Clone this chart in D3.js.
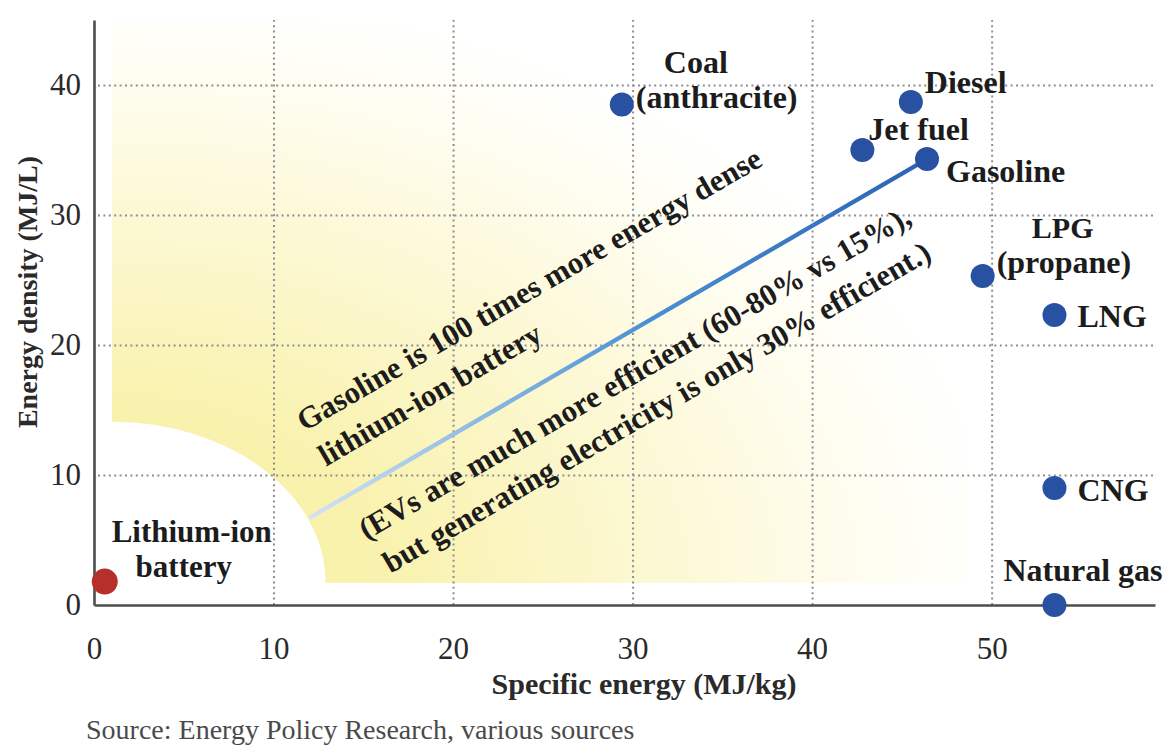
<!DOCTYPE html>
<html><head><meta charset="utf-8">
<script src="https://cdn.jsdelivr.net/npm/d3@7"></script>
<style>
html,body{margin:0;padding:0;background:#fff;}
svg{display:block;font-family:"Liberation Serif","Times New Roman",serif;}
</style>
</head><body>
<svg id="c" width="1167" height="746"></svg>
<script>
// ---- data ----
const fuels          = ["Lithium-ion battery","Coal (anthracite)","Diesel","Jet fuel","Gasoline","LPG (propane)","LNG","CNG","Natural gas"];
const specificEnergy = [0.6, 29.4, 45.5, 42.8, 46.4, 49.5, 53.5, 53.5, 53.5];   // MJ/kg
const energyDensity  = [1.8, 38.5, 38.7, 35.0, 34.3, 25.3, 22.3, 9.0, 0.0];     // MJ/L
const xTicks = [0, 10, 20, 30, 40, 50];
const yTicks = [0, 10, 20, 30, 40];
const comparisonFrom = [12.0, 6.7];          // start of the battery -> gasoline line
const glowCentre = [1.0, 1.7];               // corner of the shaded zone
const glowRadius = [11.9, 12.4];             // white cut-out around the battery
const glowRight = 48.8;
const noteAbove = ["Gasoline is 100 times more energy dense", "lithium-ion battery"];
const noteBelow = ["(EVs are much more efficient (60-80% vs 15%),", "but generating electricity is only 30% efficient.)"];
const xTitle = "Specific energy (MJ/kg)";
const yTitle = "Energy density (MJ/L)";
const source = "Source: Energy Policy Research, various sources";

// ---- layout ----
const svg = d3.select("#c");
const x = d3.scaleLinear().domain([0, 59.1]).range([94, 1155]);
const y = d3.scaleLinear().domain([0, 45]).range([605, 20]);
const points = fuels.map((n, i) => ({name: n, x: specificEnergy[i], y: energyDensity[i]}));
const ink = "#1c1c1c";

const defs = svg.append("defs");
const gx0 = x(glowCentre[0]), gy0 = y(glowCentre[1]);
const rg = defs.append("radialGradient").attr("id", "glow")
  .attr("gradientUnits", "userSpaceOnUse")
  .attr("cx", 0).attr("cy", 0).attr("r", 1)
  .attr("gradientTransform", `translate(${gx0},${gy0}) scale(900,600)`);
[[0, "#f8f0a2"], [0.3, "#f9f2ae"], [0.5, "#fbf6c6"], [0.7, "#fdfadf"], [0.88, "#fffef5"], [1, "#ffffff"]]
  .forEach(([o, c]) => rg.append("stop").attr("offset", o).attr("stop-color", c));

defs.append("clipPath").attr("id", "glowClip").append("rect")
  .attr("x", gx0).attr("y", y(45)).attr("width", x(glowRight) - gx0).attr("height", gy0 - y(45));

const glow = svg.append("g").attr("clip-path", "url(#glowClip)");
glow.append("rect").attr("x", gx0).attr("y", y(45))
  .attr("width", x(glowRight) - gx0).attr("height", gy0 - y(45)).attr("fill", "url(#glow)");
glow.append("ellipse").attr("cx", gx0).attr("cy", gy0)
  .attr("rx", x(glowCentre[0] + glowRadius[0]) - gx0)
  .attr("ry", gy0 - y(glowCentre[1] + glowRadius[1]))
  .attr("fill", "#fff");

// grid
const gridStyle = s => s.attr("stroke", "#8e8e96").attr("stroke-width", 2).attr("stroke-dasharray", "2,3.4");
const gv = svg.append("g").attr("transform", `translate(0,${y(0)})`)
  .call(d3.axisBottom(x).tickValues(xTicks.filter(d => d > 0)).tickSize(-(y(0) - y(45))).tickFormat(""));
gv.select(".domain").remove();
gv.selectAll("line").call(gridStyle);
const gh = svg.append("g").attr("transform", `translate(${x(0)},0)`)
  .call(d3.axisLeft(y).tickValues(yTicks.filter(d => d > 0)).tickSize(-(x.range()[1] - x(0))).tickFormat(""));
gh.select(".domain").remove();
gh.selectAll("line").call(gridStyle).attr("x1", 4);

// axes
const ax = svg.append("g").attr("transform", `translate(0,${y(0)})`)
  .call(d3.axisBottom(x).tickValues(xTicks).tickSize(0).tickPadding(32));
const ay = svg.append("g").attr("transform", `translate(${x(0)},0)`)
  .call(d3.axisLeft(y).tickValues(yTicks).tickSize(0).tickPadding(13));
[ax, ay].forEach(a => {
  a.select(".domain").attr("stroke", "#4d4d4d").attr("stroke-width", 2.6);
  a.selectAll("text").attr("font-family", "Liberation Serif").attr("font-size", 31).attr("fill", "#2a2a2a");
});
ay.selectAll("text").attr("dy", "0.3em");

// comparison line
const a0 = [x(comparisonFrom[0]), y(comparisonFrom[1])];
const gas = points[4];
const a1 = [x(gas.x), y(gas.y)];
const lg = defs.append("linearGradient").attr("id", "lineGrad").attr("gradientUnits", "userSpaceOnUse")
  .attr("x1", a0[0]).attr("y1", a0[1]).attr("x2", a1[0]).attr("y2", a1[1]);
[[0, "#d4e3f3"], [0.3, "#86b6e2"], [0.55, "#4a8fd4"], [1, "#2a64b2"]]
  .forEach(([o, c]) => lg.append("stop").attr("offset", o).attr("stop-color", c));
svg.append("path").attr("d", d3.line()([a0, a1]))
  .attr("stroke", "url(#lineGrad)").attr("stroke-width", 4.4).attr("fill", "none");

// annotation
const angle = Math.atan2(a1[1] - a0[1], a1[0] - a0[0]) * 180 / Math.PI;
const note = svg.append("g").attr("transform", `translate(${a0[0]},${a0[1]}) rotate(${angle})`)
  .attr("font-size", 31).attr("font-weight", "bold").attr("fill", ink);
const noteLines = [
  {t: noteAbove[0], u: 39, v: -77},
  {t: noteAbove[1], u: 40, v: -36},
  {t: noteBelow[0], u: 38, v: 48},
  {t: noteBelow[1], u: 42, v: 89}
];
note.selectAll("text").data(noteLines).join("text")
  .attr("x", d => d.u).attr("y", d => d.v).text(d => d.t);

// points
svg.append("g").selectAll("circle").data(points).join("circle")
  .attr("cx", d => x(d.x)).attr("cy", d => y(d.y))
  .attr("r", (d, i) => i === 0 ? 13 : 12)
  .attr("fill", (d, i) => i === 0 ? "#b5302b" : "#2851a1");

// point labels: one text per point, lines as [text, dx, dy, anchor, size]
const labelLayout = [
  [["Lithium-ion", 87, -40, "middle", 31], ["battery", 79, -5, "middle", 31]],
  [["Coal", 74, -32, "middle", 32], ["(anthracite)", 14, 3, "start", 32]],
  [["Diesel", 14, -9, "start", 32]],
  [["Jet fuel", 6, -10, "start", 32]],
  [["Gasoline", 19, 23, "start", 32]],
  [["LPG", 80, -38, "middle", 30], ["(propane)", 14, -3, "start", 32]],
  [["LNG", 23, 12, "start", 32]],
  [["CNG", 23, 13, "start", 32]],
  [["Natural gas", -51, -24, "start", 32]]
];
const lab = svg.append("g").attr("font-weight", "bold").attr("fill", ink);
points.forEach((p, i) => {
  const t = lab.append("text").attr("font-size", labelLayout[i][0][4]);
  labelLayout[i].forEach(([s, dx, dy, anc, fs]) => {
    t.append("tspan").attr("x", x(p.x) + dx).attr("y", y(p.y) + dy)
      .attr("text-anchor", anc).attr("font-size", fs).text(s);
  });
});

// titles
svg.append("text").attr("x", 644).attr("y", 694).attr("text-anchor", "middle")
  .attr("font-size", 30).attr("font-weight", "bold").attr("fill", "#2a2a2a").text(xTitle);
svg.append("text").attr("transform", "translate(37,292) rotate(-90)").attr("text-anchor", "middle")
  .attr("font-size", 28).attr("font-weight", "bold").attr("fill", "#2a2a2a").text(yTitle);
svg.append("text").attr("x", 86).attr("y", 739)
  .attr("font-size", 28).attr("fill", "#4a4a4a").text(source);
</script>
</body></html>
